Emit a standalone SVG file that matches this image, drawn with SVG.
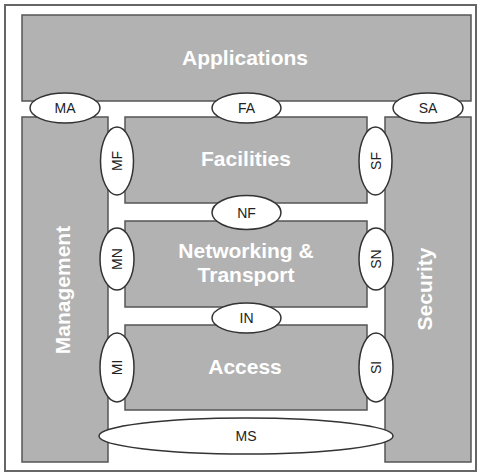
<svg xmlns="http://www.w3.org/2000/svg" width="483" height="474" viewBox="0 0 483 474">
<style>
.layer{fill:#b2b2b2;stroke:#555;stroke-width:1.5}
.big{font-family:"Liberation Sans",Arial,sans-serif;font-weight:bold;font-size:21px;fill:#fff;text-anchor:middle}
.sap{fill:#fff;stroke:#333;stroke-width:1.5}
.lbl{font-family:"Liberation Sans",Arial,sans-serif;font-size:14px;fill:#222;text-anchor:middle}
</style>
<rect x="5" y="5" width="471" height="466" fill="#fff" stroke="#666" stroke-width="2"/>
<g id="applications"><rect class="layer" x="22" y="15" width="449" height="86"/><text class="big" x="245" y="64.5">Applications</text></g>
<g id="management"><rect class="layer" x="22" y="117" width="86" height="345"/><text class="big" transform="translate(70,290) rotate(-90)">Management</text></g>
<g id="security"><rect class="layer" x="385" y="117" width="86" height="345"/><text class="big" transform="translate(432,289) rotate(-90)">Security</text></g>
<g id="facilities"><rect class="layer" x="125" y="117" width="242" height="86"/><text class="big" x="246" y="166">Facilities</text></g>
<g id="networking"><rect class="layer" x="125" y="221" width="242" height="86"/><text class="big" x="246" y="258">Networking &amp;</text><text class="big" x="246" y="282">Transport</text></g>
<g id="access"><rect class="layer" x="125" y="325" width="242" height="85"/><text class="big" x="245" y="373.5">Access</text></g>
<g id="MA"><ellipse class="sap" cx="65" cy="108" rx="35" ry="15"/><text class="lbl" x="65" y="113">MA</text></g>
<g id="FA"><ellipse class="sap" cx="246.5" cy="108" rx="34.5" ry="15"/><text class="lbl" x="246.5" y="113">FA</text></g>
<g id="SA"><ellipse class="sap" cx="428" cy="108" rx="35" ry="15"/><text class="lbl" x="428" y="113">SA</text></g>
<g id="MF"><ellipse class="sap" cx="117" cy="161" rx="16.5" ry="34"/><text class="lbl" transform="translate(122,161) rotate(-90)">MF</text></g>
<g id="SF"><ellipse class="sap" cx="375.5" cy="161" rx="16.5" ry="34"/><text class="lbl" transform="translate(380.5,161) rotate(-90)">SF</text></g>
<g id="NF"><ellipse class="sap" cx="246.5" cy="212.5" rx="34.5" ry="17"/><text class="lbl" x="246.5" y="217.5">NF</text></g>
<g id="MN"><ellipse class="sap" cx="117" cy="259" rx="17" ry="31"/><text class="lbl" transform="translate(122,259) rotate(-90)">MN</text></g>
<g id="SN"><ellipse class="sap" cx="376" cy="259" rx="17" ry="31"/><text class="lbl" transform="translate(381,259) rotate(-90)">SN</text></g>
<g id="IN"><ellipse class="sap" cx="246.5" cy="318" rx="34.5" ry="15"/><text class="lbl" x="246.5" y="323">IN</text></g>
<g id="MI"><ellipse class="sap" cx="117" cy="367.5" rx="17" ry="34.5"/><text class="lbl" transform="translate(122,367.5) rotate(-90)">MI</text></g>
<g id="SI"><ellipse class="sap" cx="376" cy="367.5" rx="17" ry="34.5"/><text class="lbl" transform="translate(381,367.5) rotate(-90)">SI</text></g>
<g id="MS"><ellipse class="sap" cx="246" cy="436" rx="147" ry="18"/><text class="lbl" x="246" y="441">MS</text></g>
</svg>
